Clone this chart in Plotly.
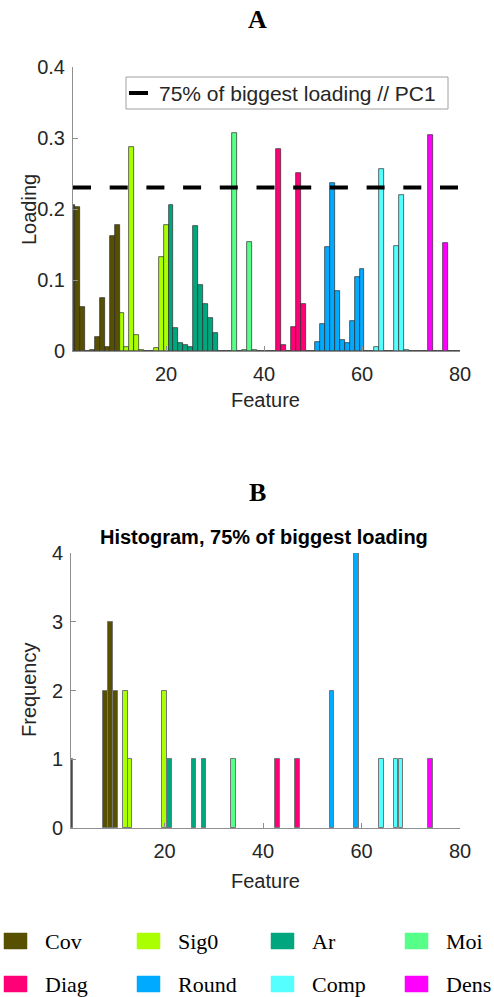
import plotly.graph_objects as go

W, H = 494, 997

# ---------------- data ----------------
groups = ["Cov", "Sig0", "Ar", "Moi", "Diag", "Round", "Comp", "Dens"]
group_colors = ["#575000", "#aaff00", "#00a67e", "#55ff88",
                "#ff0077", "#00aaff", "#55ffff", "#ff00ff"]
group_size = 10

features = list(range(1, 81))
loading = [
    0.205, 0.203, 0.062, 0.000, 0.002, 0.020, 0.074, 0.005, 0.162, 0.178,
    0.053, 0.005, 0.288, 0.023, 0.001, 0.000, 0.000, 0.004, 0.133, 0.177,
    0.205, 0.032, 0.011, 0.008, 0.005, 0.176, 0.093, 0.066, 0.047, 0.025,
    0.000, 0.000, 0.000, 0.307, 0.000, 0.002, 0.153, 0.002, 0.000, 0.000,
    0.000, 0.000, 0.284, 0.009, 0.000, 0.034, 0.251, 0.066, 0.000, 0.000,
    0.012, 0.038, 0.146, 0.236, 0.084, 0.015, 0.011, 0.042, 0.104, 0.115,
    0.000, 0.000, 0.005, 0.256, 0.000, 0.000, 0.148, 0.220, 0.001, 0.000,
    0.000, 0.000, 0.000, 0.304, 0.000, 0.000, 0.152, 0.000, 0.000, 0.000,
]
threshold_fraction = 0.75

hist_features = [1, 8, 9, 10, 12, 13, 20, 21, 26, 28, 34, 43, 47, 54, 59, 64, 67, 68, 74]
hist_counts = [1, 2, 3, 2, 2, 1, 2, 1, 1, 1, 1, 1, 1, 2, 4, 1, 1, 1, 1]

loading_ticks = [0, 0.1, 0.2, 0.3, 0.4]
loading_ticktext = ["0", "0.1", "0.2", "0.3", "0.4"]
freq_ticks = [0, 1, 2, 3, 4]
feature_ticks = [20, 40, 60, 80]

legend_text_A = "75% of biggest loading // PC1"
title_B = "Histogram, 75% of biggest loading"

# ---------------- helpers (layout only) ----------------
def px(x):
    return x / W

def py(y):
    return 1 - y / H

SANS = "Liberation Sans, Arial, sans-serif"
SERIF = "Liberation Serif, Times New Roman, serif"
TXT = "#262626"
AX = "#8f8f8f"

fig = go.Figure()

# ---------------- panel A ----------------
for gi, (g, c) in enumerate(zip(groups, group_colors)):
    xs = [f for f in features if (f - 1) // group_size == gi]
    ys = [loading[f - 1] for f in xs]
    fig.add_trace(go.Bar(
        x=xs, y=ys, width=1, marker=dict(color=c, line=dict(color="#2a2a2a", width=0.7)),
        xaxis="x", yaxis="y", showlegend=False, name=g))

thr = threshold_fraction * max(loading)
fig.add_trace(go.Scatter(
    x=[features[0], features[-1]], y=[thr, thr], mode="lines",
    line=dict(color="black", width=4, dash="18px,18.7px"),
    xaxis="x", yaxis="y", showlegend=False))

# ---------------- panel B ----------------
for gi, (g, c) in enumerate(zip(groups, group_colors)):
    xs = [f for f, n in zip(hist_features, hist_counts) if (f - 1) // group_size == gi]
    ys = [n for f, n in zip(hist_features, hist_counts) if (f - 1) // group_size == gi]
    fig.add_trace(go.Bar(
        x=xs, y=ys, width=0.95, marker=dict(color=c, line=dict(color="#777777", width=1)),
        xaxis="x2", yaxis="y2", showlegend=False, name=g))

axis_common = dict(
    showline=True, linecolor=AX, linewidth=1, ticks="inside", ticklen=5,
    tickcolor=AX, showgrid=False, zeroline=False, automargin=False,
    tickfont=dict(family=SANS, size=20, color=TXT),
)

fig.update_layout(
    width=W, height=H,
    margin=dict(l=0, r=0, t=0, b=0, pad=0, autoexpand=False),
    paper_bgcolor="white", plot_bgcolor="white",
    showlegend=False,
    bargap=0,
    xaxis=dict(domain=[px(73), px(460)], range=[1, 80], anchor="y",
               tickvals=feature_ticks, ticklabelstandoff=5, **axis_common),
    yaxis=dict(domain=[py(351), py(67)], range=[0, 0.4], anchor="x",
               tickvals=loading_ticks, ticktext=loading_ticktext,
               ticklabelstandoff=3, **axis_common),
    xaxis2=dict(domain=[px(71), px(460)], range=[1, 80], anchor="y2",
                tickvals=feature_ticks, ticklabelstandoff=5, **axis_common),
    yaxis2=dict(domain=[py(828), py(553)], range=[0, 4], anchor="x2",
                tickvals=freq_ticks, ticklabelstandoff=3, **axis_common),
)

shapes = []
annotations = []

def label(text, x, y, font, xanchor="center", angle=0):
    annotations.append(dict(text=text, x=px(x), y=py(y), xref="paper", yref="paper",
                            xanchor=xanchor, yanchor="middle", showarrow=False,
                            textangle=angle, font=font))

# panel labels
label("<b>A</b>", 257, 20, dict(family=SERIF, size=26, color="black"))
label("<b>B</b>", 257, 492, dict(family=SERIF, size=26, color="black"))

# axis titles
axfont = dict(family=SANS, size=20, color=TXT)
label("Feature", 265, 400, axfont)
label("Loading", 29, 210, axfont, angle=-90)
label("Feature", 265, 881, axfont)
label("Frequency", 29, 690, axfont, angle=-90)

# histogram title
label("<b>" + title_B + "</b>", 264, 537, dict(family=SANS, size=20, color="black"))

# legend box in panel A
shapes.append(dict(type="rect", xref="paper", yref="paper",
                   x0=px(126), x1=px(448), y0=py(109), y1=py(77),
                   line=dict(color="#a0a0a0", width=1), fillcolor="white"))
shapes.append(dict(type="line", xref="paper", yref="paper",
                   x0=px(129), x1=px(148), y0=py(93), y1=py(93),
                   line=dict(color="black", width=4)))
label(legend_text_A, 157, 93, dict(family=SANS, size=21, color=TXT), xanchor="left")

# bottom legend
col_x = [4, 137, 271, 405]
row_y = [941, 984]
for i, (g, c) in enumerate(zip(groups, group_colors)):
    r, k = divmod(i, 4)
    x0 = col_x[k]
    yc = row_y[r]
    shapes.append(dict(type="rect", xref="paper", yref="paper",
                       x0=px(x0), x1=px(x0 + 23), y0=py(yc + 8), y1=py(yc - 8),
                       line=dict(color=c, width=0.5), fillcolor=c))
    label(g, x0 + 39, yc, dict(family=SERIF, size=22, color="black"), xanchor="left")

fig.update_layout(shapes=shapes, annotations=annotations)

fig.write_html("out.html", config={"displayModeBar": False},
               post_script="document.body.style.margin='0px';")
